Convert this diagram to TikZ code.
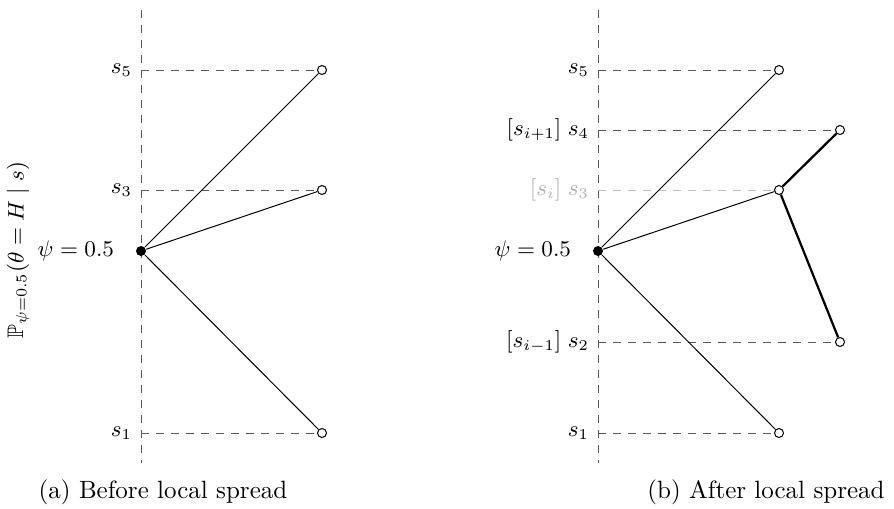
\documentclass[tikz,border=0pt]{standalone}
\usepackage{amsmath}
\usepackage{amsfonts}
\usepackage{xcolor}
\usetikzlibrary{positioning}

\begin{document}
\begin{tikzpicture}[
  x=0.4pt, y=-0.4pt,
  lbl/.style={font=\small, inner sep=2pt},
  guide/.style={draw=black!65, dashed},
  faint/.style={draw=black!25, dashed},
  state/.style={circle, draw, inner sep=0pt, minimum size=3.6pt},
  prior/.style={circle, fill=black, inner sep=0pt, minimum size=4pt},
  edge/.style={draw=black},
  spread/.style={draw=black, line width=0.9pt}
]
\useasboundingbox (0,0) rectangle (894,508);

% (a) before local spread
\coordinate (atop) at (141,10);
\coordinate (abot) at (141,463);
\draw[guide] (atop) -- (abot);
\coordinate (ay5) at (141,70);
\coordinate (ay3) at (141,190);
\coordinate (ay1) at (141,433);
\node[state] (a5) at (322,70) {};
\node[state] (a3) at (322,190) {};
\node[state] (a1) at (322,433) {};
\draw[guide] (ay5) -- (a5);
\draw[guide] (ay3) -- (a3);
\draw[guide] (ay1) -- (a1);
\node[lbl, left=1.4pt of ay5] {$s_5$};
\node[lbl, left=1.4pt of ay3] {$s_3$};
\node[lbl, left=1.4pt of ay1] {$s_1$};
\node[prior] (apsi) at (141,251) {};
\node[lbl, left=6.4pt of apsi] {$\psi = 0.5$};
\draw[edge] (apsi) -- (a5);
\draw[edge] (apsi) -- (a3);
\draw[edge] (apsi) -- (a1);
\node[lbl, rotate=90] (ylab) at (18,250) {$\mathbb{P}_{\psi=0.5}(\theta = H \mid s)$};
\node (capa) at (163,492) {(a) Before local spread};

% (b) after local spread
\coordinate (btop) at (598,10);
\coordinate (bbot) at (598,463);
\draw[guide] (btop) -- (bbot);
\coordinate (by5) at (598,70);
\coordinate (by4) at (598,130);
\coordinate (by3) at (598,190);
\coordinate (by2) at (598,342);
\coordinate (by1) at (598,433);
\node[state] (b5) at (779,70) {};
\node[state] (b4) at (840,130) {};
\node[state] (b3) at (779,190) {};
\node[state] (b2) at (840,342) {};
\node[state] (b1) at (779,433) {};
\draw[guide] (by5) -- (b5);
\draw[guide] (by4) -- (b4);
\draw[faint] (by3) -- (b3);
\draw[guide] (by2) -- (b2);
\draw[guide] (by1) -- (b1);
\node[lbl, left=1.4pt of by5] {$s_5$};
\node[lbl, left=1.4pt of by4] {$[s_{i+1}]\;s_4$};
\node[lbl, left=1.4pt of by3, text=black!30] {$[s_i]\;s_3$};
\node[lbl, left=1.4pt of by2] {$[s_{i-1}]\;s_2$};
\node[lbl, left=1.4pt of by1] {$s_1$};
\node[prior] (bpsi) at (598,251) {};
\node[lbl, left=6.4pt of bpsi] {$\psi = 0.5$};
\draw[edge] (bpsi) -- (b5);
\draw[edge] (bpsi) -- (b3);
\draw[edge] (bpsi) -- (b1);
\draw[spread] (b3) -- (b4);
\draw[spread] (b3) -- (b2);
\node (capb) at (766,492) {(b) After local spread};
\end{tikzpicture}
\end{document}
